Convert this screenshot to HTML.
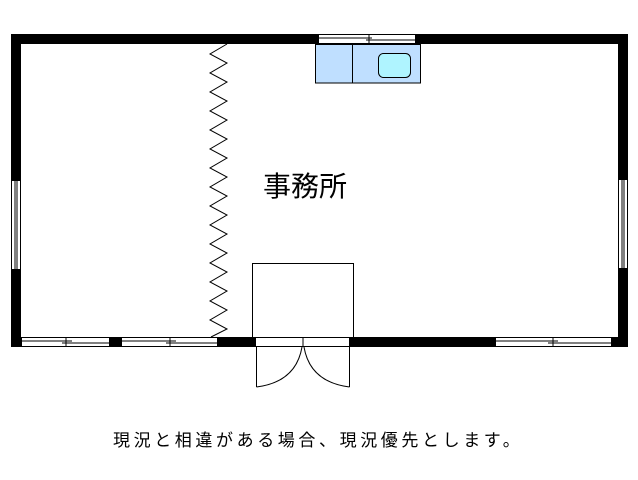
<!DOCTYPE html>
<html><head><meta charset="utf-8"><style>
body{margin:0;background:#fff;width:638px;height:480px;overflow:hidden;font-family:"Liberation Sans","Noto Sans CJK JP",sans-serif}
svg{position:absolute;left:0;top:0}
.t{position:absolute;white-space:nowrap;color:#000}
</style></head><body>
<svg width="638" height="480" viewBox="0 0 638 480">
<g fill="#000">
<rect x="11" y="34" width="307" height="10"/>
<rect x="416" y="34" width="212" height="10"/>
<rect x="11" y="34" width="10" height="146"/>
<rect x="11" y="270" width="10" height="77"/>
<rect x="618" y="34" width="10" height="145"/>
<rect x="618" y="269" width="10" height="78"/>
<rect x="11" y="337" width="10" height="10"/>
<rect x="110" y="337" width="11" height="10"/>
<rect x="218" y="337" width="37" height="10"/>
<rect x="350" y="337" width="145" height="10"/>
<rect x="612" y="337" width="16" height="10"/>
</g>
<g stroke="#000" stroke-width="1" fill="none">
<rect x="318.5" y="34.5" width="97" height="9"/>
<line x1="318" y1="38" x2="372" y2="38"/><line x1="366" y1="40" x2="416" y2="40"/><line x1="369" y1="35" x2="369" y2="43"/>
<rect x="11.5" y="180.5" width="9" height="89"/><line x1="15" y1="180" x2="15" y2="270"/><line x1="17" y1="180" x2="17" y2="270"/>
<rect x="618.5" y="179.5" width="9" height="89"/><line x1="622" y1="179" x2="622" y2="269"/><line x1="624" y1="179" x2="624" y2="269"/>
<rect x="21.5" y="337.5" width="88" height="9"/><line x1="21" y1="341" x2="72" y2="341"/><line x1="62" y1="343" x2="110" y2="343"/><line x1="66" y1="338" x2="66" y2="346"/>
<rect x="121.5" y="337.5" width="96" height="9"/><line x1="121" y1="341" x2="176" y2="341"/><line x1="166" y1="343" x2="218" y2="343"/><line x1="170" y1="338" x2="170" y2="346"/>
<rect x="495.5" y="337.5" width="116" height="9"/><line x1="495" y1="341" x2="558" y2="341"/><line x1="548" y1="343" x2="612" y2="343"/><line x1="553" y1="338" x2="553" y2="346"/>
<rect x="255.5" y="337.5" width="94" height="9"/><line x1="303" y1="337" x2="303" y2="347"/>
<line x1="256.5" y1="347" x2="256.5" y2="387"/><path d="M256.5 387 Q296 382 302 347"/>
<line x1="349.5" y1="347" x2="349.5" y2="387"/><path d="M349.5 387 Q310 382 304 347"/>
<rect x="252.5" y="263.5" width="101" height="74"/>
<polyline points="227,44 210,54 227,63 210,73 227,82 210,92 227,101 210,111 227,120 210,130 227,139 210,149 227,158 210,168 227,177 210,187 227,196 210,206 227,215 210,225 227,234 210,244 227,253 210,263 227,272 210,282 227,291 210,301 227,310 210,320 227,329 211,337"/>
</g>
<rect x="315.5" y="44.5" width="105" height="38.5" fill="#bfdfff" stroke="#000"/>
<line x1="352.5" y1="44" x2="352.5" y2="83" stroke="#000"/>
<rect x="378.5" y="53.5" width="32" height="24" rx="5" fill="#aff4ff" stroke="#000"/>
</svg>
<div class="t" style="left:263px;top:165px;font-size:28px">事務所</div>
<div class="t" style="left:113px;top:426px;font-size:17px;letter-spacing:3.6px">現況と相違がある場合、現況優先とします。</div>
</body></html>
